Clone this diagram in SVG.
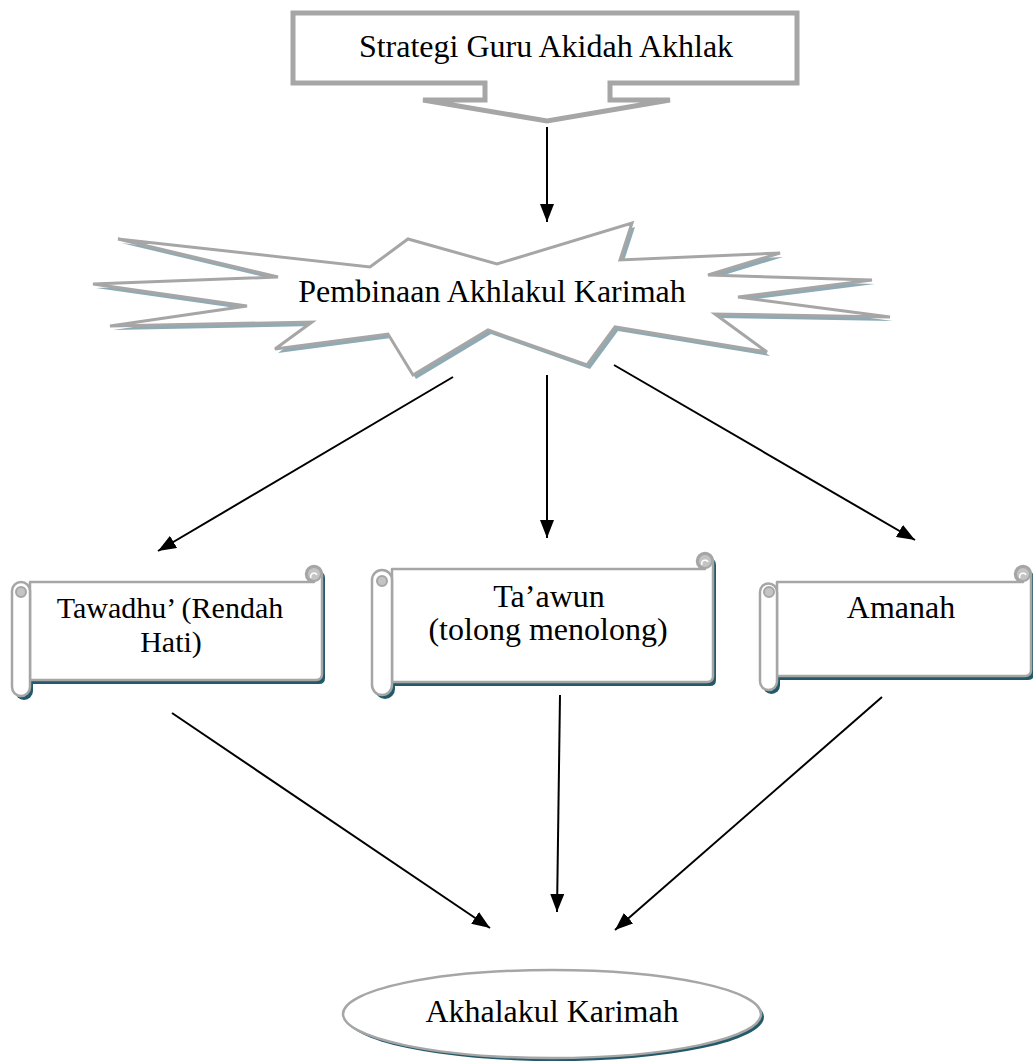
<svg xmlns="http://www.w3.org/2000/svg" width="1033" height="1064" viewBox="0 0 1033 1064">
<style>
.lbl{font-family:"Liberation Serif","Times New Roman",serif;font-size:32px;fill:#000;text-anchor:middle}
.edge{stroke:#000;stroke-width:2;fill:none;marker-end:url(#ah)}
.sh{fill:#235a6a;stroke:none}
.sc{fill:#fff;stroke:#a6a6a6;stroke-width:2.5;stroke-linejoin:round}
.curl{fill:#c4c4c4;stroke:#a6a6a6;stroke-width:2}
</style>
<defs>
<marker id="ah" markerUnits="userSpaceOnUse" markerWidth="20" markerHeight="14" refX="18" refY="7" orient="auto">
<path d="M0,0 L18,7 L0,14 Z" fill="#000"/>
</marker>
</defs>
<rect width="1033" height="1064" fill="#fff"/>

<g id="node-strategi">
<path d="M293,13 H797 V83 H610 V100 H670 L547,121 L423,100 H485 V83 H293 Z" fill="#fff" stroke="#a6a6a6" stroke-width="5" stroke-linejoin="miter"/>
<text class="lbl" x="546" y="57">Strategi Guru Akidah Akhlak</text>
</g>

<g id="node-pembinaan">
<polygon transform="translate(3,4)" fill="#8eabb5" points="118,239 370,267 408,239 497,264 632,223 620,260 780,253 708,275 872,280 738,297 890,317 715,314 767,352 615,327 587,365 488,330 413,375 388,334 275,349 312,322 110,326 247,306 93,284 278,277"/>
<polygon fill="#fff" stroke="#a6a6a6" stroke-width="3" stroke-linejoin="miter" points="118,239 370,267 408,239 497,264 632,223 620,260 780,253 708,275 872,280 738,297 890,317 715,314 767,352 615,327 587,365 488,330 413,375 388,334 275,349 312,322 110,326 247,306 93,284 278,277"/>
<text class="lbl" x="492" y="302">Pembinaan Akhlakul Karimah</text>
</g>

<g id="node-tawadhu">
<g transform="translate(3,4)">
<path class="sh" d="M30,582 H314 A8,8 0 1 1 322,574 V674 Q322,680 316,680 H30 Z"/>
<path class="sh" d="M12,591 A9,9 0 0 1 30,591 V687 A9,9 0 0 1 12,687 Z"/>
</g>
<path class="sc" d="M30,582 H314 A8,8 0 1 1 322,574 V674 Q322,680 316,680 H30 Z"/>
<circle class="curl" cx="314" cy="574" r="7"/>
<path d="M311,578 A3,3 0 1 1 317,575" fill="none" stroke="#fff" stroke-width="1.5"/>
<path class="sc" d="M12,591 A9,9 0 0 1 30,591 V687 A9,9 0 0 1 12,687 Z"/>
<circle class="curl" cx="21" cy="592" r="5"/>
<text class="lbl" style="font-size:30px" x="170" y="618">Tawadhu’ (Rendah</text>
<text class="lbl" style="font-size:30px" x="171" y="652">Hati)</text>
</g>

<g id="node-taawun">
<g transform="translate(3,4)">
<path class="sh" d="M392,569 H705 A8,8 0 1 1 713,561 V676 Q713,682 707,682 H392 Z"/>
<path class="sh" d="M372,580 A10,10 0 0 1 392,580 V685 A10,10 0 0 1 372,685 Z"/>
</g>
<path class="sc" d="M392,569 H705 A8,8 0 1 1 713,561 V676 Q713,682 707,682 H392 Z"/>
<circle class="curl" cx="705" cy="561" r="7"/>
<path d="M702,565 A3,3 0 1 1 708,562" fill="none" stroke="#fff" stroke-width="1.5"/>
<path class="sc" d="M372,580 A10,10 0 0 1 392,580 V685 A10,10 0 0 1 372,685 Z"/>
<circle class="curl" cx="382" cy="581" r="5"/>
<text class="lbl" x="549" y="607">Ta’awun</text>
<text class="lbl" x="548" y="640">(tolong menolong)</text>
</g>

<g id="node-amanah">
<g transform="translate(3,4)">
<path class="sh" d="M777,582 H1023 A8,8 0 1 1 1031,574 V670 Q1031,676 1025,676 H777 Z"/>
<path class="sh" d="M760,592 A8.5,8.5 0 0 1 777,592 V681.5 A8.5,8.5 0 0 1 760,681.5 Z"/>
</g>
<path class="sc" d="M777,582 H1023 A8,8 0 1 1 1031,574 V670 Q1031,676 1025,676 H777 Z"/>
<circle class="curl" cx="1023" cy="574" r="7"/>
<path d="M1020,578 A3,3 0 1 1 1026,575" fill="none" stroke="#fff" stroke-width="1.5"/>
<path class="sc" d="M760,592 A8.5,8.5 0 0 1 777,592 V681.5 A8.5,8.5 0 0 1 760,681.5 Z"/>
<circle class="curl" cx="769" cy="592" r="5"/>
<text class="lbl" x="901" y="618">Amanah</text>
</g>

<g id="node-akhalakul">
<ellipse cx="555" cy="1017" rx="209" ry="44" fill="#235a6a"/>
<ellipse cx="552" cy="1014" rx="209" ry="44" fill="#fff" stroke="#a6a6a6" stroke-width="2.5"/>
<text class="lbl" x="552" y="1022">Akhalakul Karimah</text>
</g>

<g id="connectors">
<line class="edge" x1="547" y1="127" x2="547" y2="222"/>
<line class="edge" x1="453" y1="377" x2="158" y2="551"/>
<line class="edge" x1="547" y1="375" x2="547" y2="538"/>
<line class="edge" x1="614" y1="365" x2="915" y2="540"/>
<line class="edge" x1="172" y1="713" x2="490" y2="928"/>
<line class="edge" x1="560" y1="695" x2="557" y2="912"/>
<line class="edge" x1="882" y1="697" x2="615" y2="930"/>
</g>
</svg>
